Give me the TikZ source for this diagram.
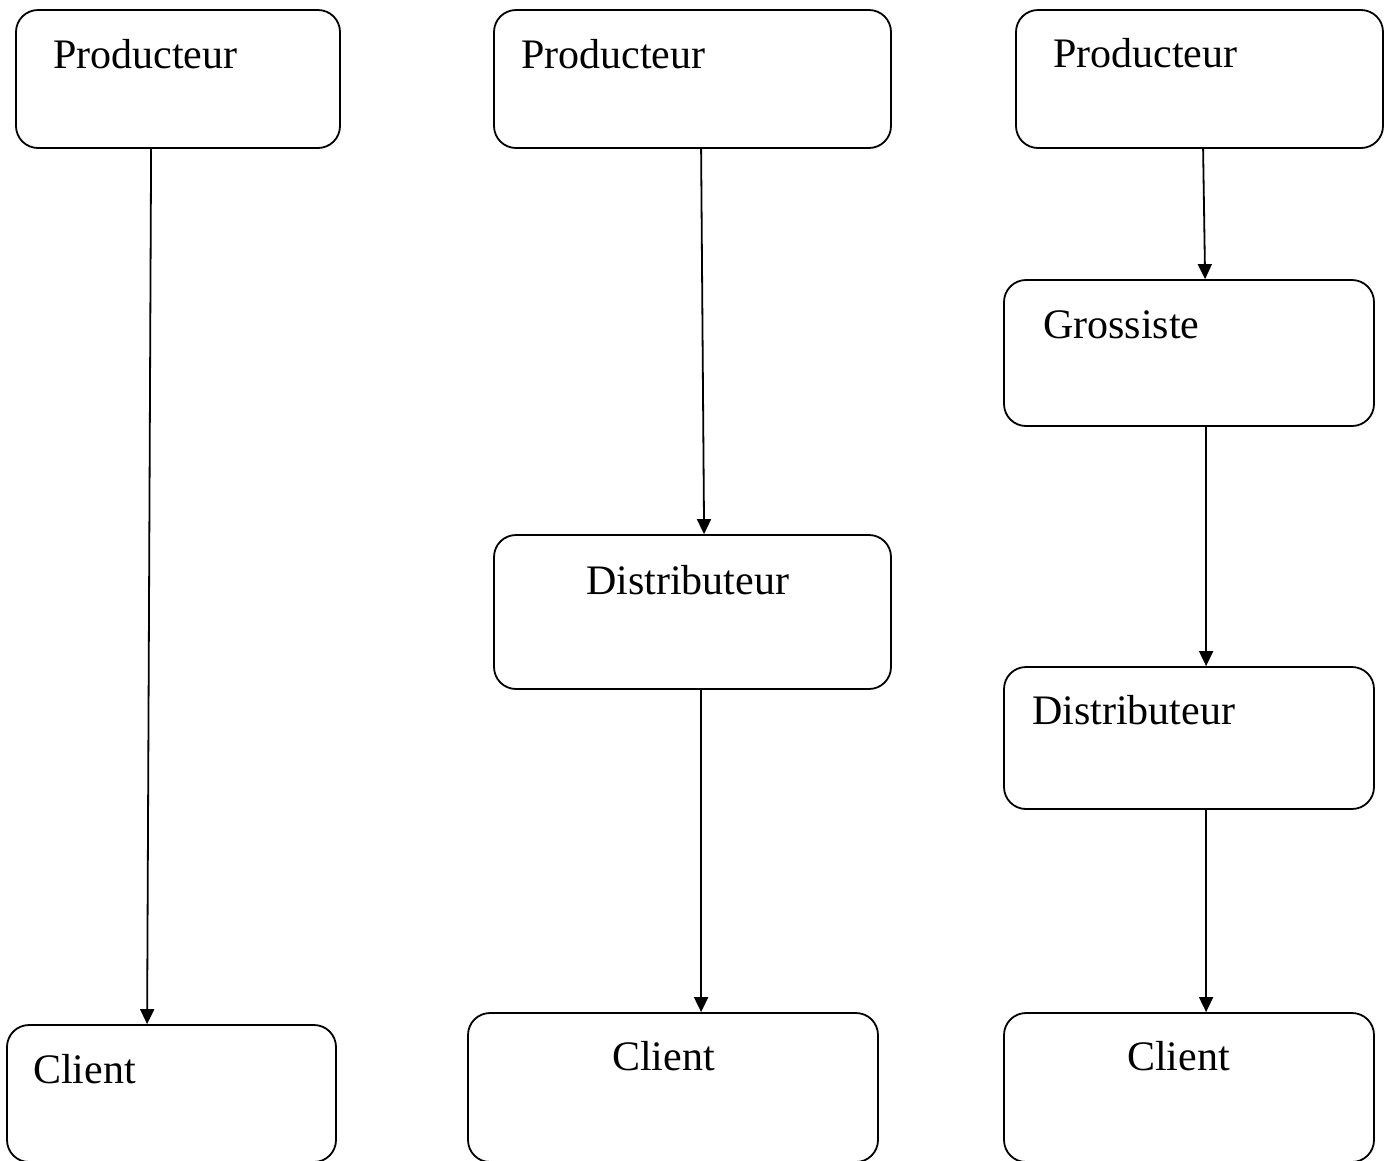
\documentclass[tikz,border=0pt]{standalone}
\usepackage{fontspec}
\setmainfont{Liberation Serif}
\usetikzlibrary{arrows.meta}
\begin{document}
\begin{tikzpicture}[x=1pt,y=-1pt,
  box/.style={draw, line width=1.8pt, rounded corners=22pt, inner sep=0pt},
  lbl/.style={anchor=base west, inner sep=0pt, font=\fontsize{42}{50}\selectfont},
  arr/.style={line width=1.8pt, -{Triangle[width=14pt,length=15pt]}}]
\useasboundingbox (0,0) rectangle (1389,1160);
\clip (0,0) rectangle (1389,1160);
% column 1
\node[box, minimum width=324pt, minimum height=138pt] (P1) at (178,79) {};
\node[box, minimum width=329pt, minimum height=137pt] (C1) at (171.5,1093.5) {};
% column 2
\node[box, minimum width=397pt, minimum height=138pt] (P2) at (692.5,79) {};
\node[box, minimum width=397pt, minimum height=154pt] (D2) at (692.5,612) {};
\node[box, minimum width=410pt, minimum height=149pt] (C2) at (673,1087.5) {};
% column 3
\node[box, minimum width=367pt, minimum height=138pt] (P3) at (1199.5,79) {};
\node[box, minimum width=370pt, minimum height=146pt] (G3) at (1189,353) {};
\node[box, minimum width=370pt, minimum height=142pt] (D3) at (1189,738) {};
\node[box, minimum width=370pt, minimum height=149pt] (C3) at (1189,1087.5) {};
% labels
\node[lbl] (tP1) at (53,68) {Producteur};
\node[lbl] (tP2) at (521,68) {Producteur};
\node[lbl] (tP3) at (1053,67) {Producteur};
\node[lbl] (tG3) at (1043,338) {Grossiste};
\node[lbl] (tD2) at (586,594) {Distributeur};
\node[lbl] (tD3) at (1032,724) {Distributeur};
\node[lbl] (tC1) at (33,1083) {Client};
\node[lbl] (tC2) at (612,1070) {Client};
\node[lbl] (tC3) at (1127,1070) {Client};
% arrows
\draw[arr] ([xshift=136pt]P1.south west) -- ([xshift=141pt]C1.north west);
\draw[arr] ([xshift=208pt]P2.south west) -- ([xshift=211pt]D2.north west);
\draw[arr] ([xshift=208pt]D2.south west) -- ([xshift=234pt]C2.north west);
\draw[arr] ([xshift=188pt]P3.south west) -- ([xshift=202pt]G3.north west);
\draw[arr] ([xshift=203pt]G3.south west) -- ([xshift=203pt]D3.north west);
\draw[arr] ([xshift=203pt]D3.south west) -- ([xshift=203pt]C3.north west);
\end{tikzpicture}
\end{document}
